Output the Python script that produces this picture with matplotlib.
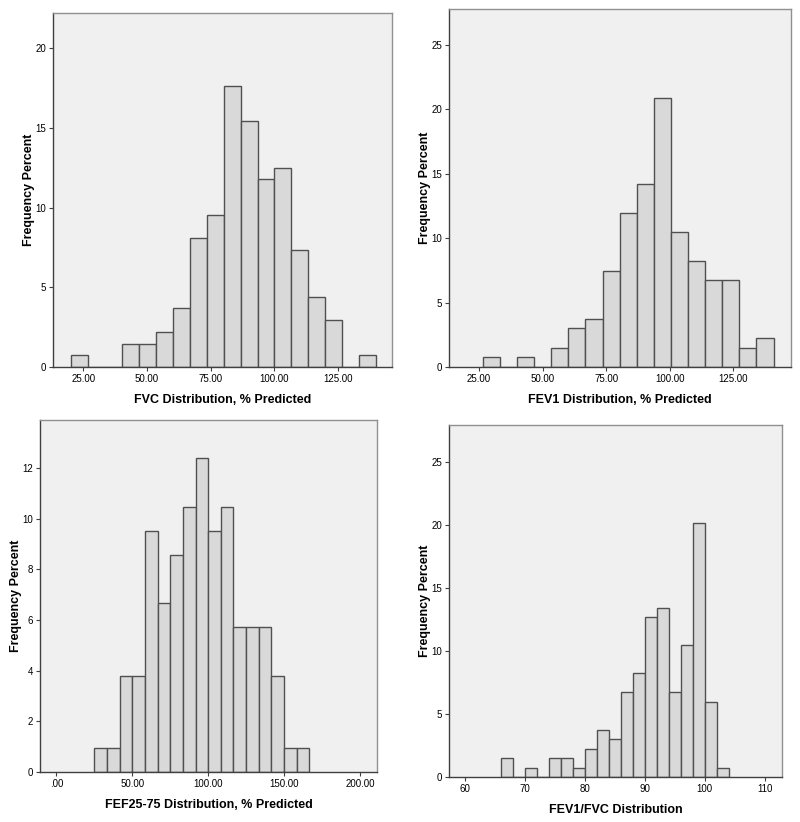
import matplotlib.pyplot as plt
import numpy as np

plt.rcParams['font.family'] = ['Liberation Sans', 'DejaVu Sans']

# bin edges (lower edge of first bin, bin width) and percent per bin
fvc_start, fvc_width = 20.2, 6.66
fvc_pct = [0.74, 0, 0, 1.47, 1.47, 2.21, 3.68, 8.09, 9.56, 17.65, 15.44,
           11.76, 12.5, 7.35, 4.41, 2.94, 0, 0.74]

fev1_start, fev1_width = 26.5, 6.72
fev1_pct = [0.75, 0, 0.75, 0, 1.49, 2.99, 3.73, 7.46, 11.94, 14.18, 20.9,
            10.45, 8.21, 6.72, 6.72, 1.49, 2.24]

fef_start, fef_width = 25.0, 8.33
fef_pct = [0.95, 0.95, 3.81, 3.81, 9.52, 6.67, 8.57, 10.48, 12.38, 9.52,
           10.48, 5.71, 5.71, 5.71, 3.81, 0.95, 0.95]

ratio_start, ratio_width = 66.0, 2.0
ratio_pct = [1.49, 0, 0.75, 0, 1.49, 1.49, 0.75, 2.24, 3.73, 2.99, 6.72,
             8.21, 12.69, 13.43, 6.72, 10.45, 20.15, 5.97, 0.75]

panels = [
    dict(pct=fvc_pct, start=fvc_start, width=fvc_width,
         xlabel='FVC Distribution, % Predicted',
         xlim=(13.1, 146.3), ylim=(0, 22.2),
         xticks=[25, 50, 75, 100, 125], xfmt='{:.2f}', yticks=[0, 5, 10, 15, 20],
         box=(53, 13, 392, 367)),
    dict(pct=fev1_pct, start=fev1_start, width=fev1_width,
         xlabel='FEV1 Distribution, % Predicted',
         xlim=(13.2, 147.6), ylim=(0, 27.8),
         xticks=[25, 50, 75, 100, 125], xfmt='{:.2f}', yticks=[0, 5, 10, 15, 20, 25],
         box=(449, 9, 791, 367)),
    dict(pct=fef_pct, start=fef_start, width=fef_width,
         xlabel='FEF25-75 Distribution, % Predicted',
         xlim=(-10.8, 211.2), ylim=(0, 13.9),
         xticks=[0, 50, 100, 150, 200], xfmt='{:.2f}', yticks=[0, 2, 4, 6, 8, 10, 12],
         box=(40, 420, 377, 772)),
    dict(pct=ratio_pct, start=ratio_start, width=ratio_width,
         xlabel='FEV1/FVC Distribution',
         xlim=(57.3, 112.9), ylim=(0, 27.9),
         xticks=[60, 70, 80, 90, 100, 110], xfmt='{:.0f}', yticks=[0, 5, 10, 15, 20, 25],
         box=(449, 425, 782, 777)),
]

W, H = 800, 822
fig = plt.figure(figsize=(W / 100, H / 100), dpi=100)

for p in panels:
    l, t, r, b = p['box']
    ax = fig.add_axes([l / W, 1 - b / H, (r - l) / W, (b - t) / H])
    ax.set_facecolor('#f0f0f0')
    n = len(p['pct'])
    edges = p['start'] + p['width'] * np.arange(n)
    ax.bar(edges, p['pct'], width=p['width'], align='edge',
           color='#d9d9d9', edgecolor='#505050', linewidth=1.0)
    ax.set_xlim(*p['xlim'])
    ax.set_ylim(*p['ylim'])
    ax.set_xticks(p['xticks'])
    labels = [p['xfmt'].format(v) for v in p['xticks']]
    labels = ['.00' if s == '0.00' else s for s in labels]
    ax.set_xticklabels(labels)
    ax.set_yticks(p['yticks'])
    ax.tick_params(labelsize=7, length=3, width=0.8, color='#404040', pad=2)
    for side in ['top', 'right']:
        ax.spines[side].set_color('#909090')
    for side in ['left', 'bottom']:
        ax.spines[side].set_color('#404040')
    for s in ax.spines.values():
        s.set_linewidth(1.0)
    ax.set_xlabel(p['xlabel'], fontsize=9, fontweight='bold', labelpad=7)
    ax.set_ylabel('Frequency Percent', fontsize=9, fontweight='bold', labelpad=0.5)

fig.savefig('out.png', dpi=100)
